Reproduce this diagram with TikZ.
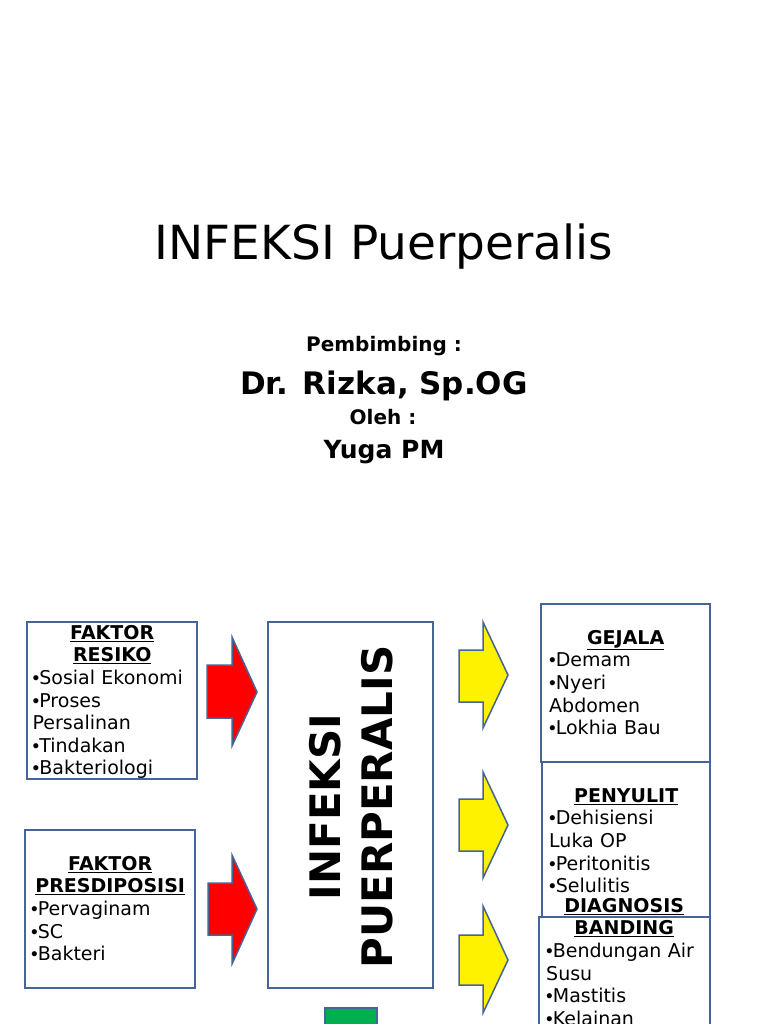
\documentclass[tikz,border=0pt]{standalone}
\usepackage{fontspec}
\setmainfont{DejaVu Sans}
\newfontfamily\arialf{Liberation Sans}
\definecolor{bord}{RGB}{70,100,150}
\definecolor{grn}{RGB}{0,176,80}
\newcommand{\bxfont}{\fontsize{19}{22.6}\selectfont}
\newcommand{\hd}[1]{\makebox[\linewidth]{\bfseries\underline{#1}}}
\newcommand{\bul}{{\arialf •}}
\begin{document}
\begin{tikzpicture}[x=1pt,y=-1pt,
  box/.style={draw=bord,line width=2pt,fill=white,rectangle,inner sep=0pt,outer sep=0pt},
  txt/.style={inner sep=0pt,anchor=north west,align=left,font=\bxfont},
  redarr/.style={draw=bord,line width=1.5pt,fill=red,line join=miter},
  yelarr/.style={draw=bord,line width=1.5pt,fill=yellow,line join=miter},
  ttl/.style={inner sep=0pt,anchor=base}]
\useasboundingbox (0,0) rectangle (768,1024);
\fill[white] (0,0) rectangle (768,1024);
% titles
\node[ttl,font=\fontsize{47}{56}\selectfont] (title) at (384,259) {INFEKSI Puerperalis};
\node[ttl,font=\fontsize{20}{24}\selectfont\bfseries] (pemb) at (384,351) {Pembimbing :};
\node[ttl,font=\fontsize{31}{37}\selectfont\bfseries] (dr) at (384,394) {Dr. Rizka, Sp.OG};
\node[ttl,font=\fontsize{20}{24}\selectfont\bfseries] (oleh) at (383,424) {Oleh :};
\node[ttl,font=\fontsize{25}{30}\selectfont\bfseries] (yuga) at (384,458) {Yuga PM};
% boxes
\node[box,minimum width=170pt,minimum height=157pt] (resiko) at (112,700.5) {};
\node[box,minimum width=170pt,minimum height=158pt] (presd) at (110,909) {};
\node[box,minimum width=165pt,minimum height=366pt] (inf) at (350.5,805) {};
\node[box,minimum width=169pt,minimum height=158pt] (gejala) at (625.5,683) {};
\node[box,minimum width=168pt,minimum height=155pt] (penyulit) at (626,839.5) {};
\node[box,minimum width=171pt,minimum height=130pt] (diag) at (624.5,982) {};
\node[draw=bord,line width=1.5pt,fill=grn,minimum width=52pt,minimum height=30pt,inner sep=0pt] (green) at (351,1023) {};
% arrows
\draw[redarr] (207,665) -- (232,665) -- (232,637) -- (257,692) -- (232,746) -- (232,718) -- (207,718) -- cycle;
\draw[redarr] (208,883) -- (232,883) -- (232,855) -- (257,909) -- (232,964) -- (232,935) -- (208,935) -- cycle;
\draw[yelarr] (459,650) -- (483,650) -- (483,622) -- (508,675) -- (483,728) -- (483,702) -- (459,702) -- cycle;
\draw[yelarr] (459,799) -- (483,799) -- (483,772) -- (508,825) -- (483,878) -- (483,851) -- (459,851) -- cycle;
\draw[yelarr] (459,935) -- (483,935) -- (483,906) -- (508,960) -- (483,1013) -- (483,985) -- (459,985) -- cycle;
% box texts
\node[txt,text width=159pt] (tresiko) at (32.5,623.2) {\strut\hd{FAKTOR}\\\hd{RESIKO}\\\bul Sosial Ekonomi\\\bul Proses\\Persalinan\\\bul Tindakan\\\bul Bakteriologi};
\node[txt,text width=158pt] (tpresd) at (31,854.2) {\strut\hd{FAKTOR}\\\hd{PRESDIPOSISI}\\\bul Pervaginam\\\bul SC\\\bul Bakteri};
\node[txt,text width=153pt] (tgejala) at (549,628.2) {\strut\hd{GEJALA}\\\bul Demam\\\bul Nyeri\\Abdomen\\\bul Lokhia Bau};
\node[txt,text width=154pt] (tpenyulit) at (549,786.2) {\strut\hd{PENYULIT}\\\bul Dehisiensi\\Luka OP\\\bul Peritonitis\\\bul Selulitis};
\node[txt,text width=156pt] (tdiag) at (546,896.2) {\strut\hd{DIAGNOSIS}\\\hd{BANDING}\\\bul Bendungan Air\\Susu\\\bul Mastitis\\\bul Kelainan};
\node[font=\fontsize{42}{52}\selectfont\bfseries,align=center,rotate=90,inner sep=0pt] (tinf) at (351,807) {INFEKSI\\PUERPERALIS};
\end{tikzpicture}
\end{document}
